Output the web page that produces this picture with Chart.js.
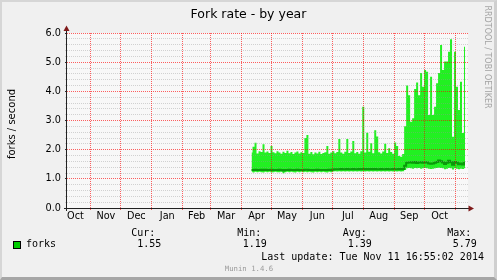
<!DOCTYPE html>
<html><head><meta charset="utf-8">
<script src="https://cdn.jsdelivr.net/npm/chart.js@4.4.1/dist/chart.umd.min.js"></script>
<style>
html,body{margin:0;padding:0;background:#f0f0f0;}
#wrap{position:relative;width:497px;height:280px;overflow:hidden;background:#f0f0f0;}
#c{position:absolute;left:0;top:0;}
.t{position:absolute;white-space:pre;color:#000;}
.mono{font-family:'DejaVu Sans Mono',monospace;font-size:10px;line-height:10px;}
#frame{position:absolute;left:0;top:0;width:497px;height:280px;box-sizing:border-box;border-style:solid;border-width:2px 3px 3px 2px;border-color:#d6d6d6 #cfcfcf #a6a6a6 #d6d6d6;pointer-events:none;}
</style></head><body>
<div id="wrap">
<canvas id="c" width="497" height="280"></canvas>
<div class="t" style="left:0;width:497px;text-align:center;top:6.7px;font-family:'DejaVu Sans';font-size:12.5px;line-height:13px;">Fork rate - by year</div>
<div class="t" style="left:-38.5px;top:118px;width:100px;text-align:center;font-family:'DejaVu Sans';font-size:10px;line-height:12px;transform:rotate(-90deg);">forks / second</div>
<div class="t" style="left:412.3px;top:51.5px;width:150px;text-align:center;font-family:'DejaVu Sans';font-size:8px;line-height:10px;color:#a4a4a4;transform:rotate(90deg);">RRDTOOL / TOBI OETIKER</div>
<div style="position:absolute;left:13px;top:241px;width:8px;height:8px;box-sizing:border-box;border:1px solid #000;background:#00cc00;"></div>
<div class="t mono" style="left:26px;top:239.2px;">forks</div>
<div class="t mono" style="left:131.2px;top:227.5px;">Cur:</div>
<div class="t mono" style="left:237.2px;top:227.5px;">Min:</div>
<div class="t mono" style="left:342.8px;top:227.5px;">Avg:</div>
<div class="t mono" style="left:447.2px;top:227.5px;">Max:</div>
<div class="t mono" style="left:137.2px;top:239.2px;">1.55</div>
<div class="t mono" style="left:242.8px;top:239.2px;">1.19</div>
<div class="t mono" style="left:347.8px;top:239.2px;">1.39</div>
<div class="t mono" style="left:452.8px;top:239.2px;">5.79</div>
<div class="t mono" style="left:261.2px;top:251.5px;">Last update: Tue Nov 11 16:55:02 2014</div>
<div class="t" style="left:224.8px;top:265.2px;font-family:'DejaVu Sans Mono',monospace;font-size:7.3px;line-height:8px;color:#9a9a9a;">Munin 1.4.6</div>
<div id="frame"></div>
</div>
<script>
// ---- data ----
const monthLabels = ['Oct','Nov','Dec','Jan','Feb','Mar','Apr','May','Jun','Jul','Aug','Sep','Oct'];
const monthStarts = ['2013-10-01','2013-11-01','2013-12-01','2014-01-01','2014-02-01','2014-03-01','2014-04-01',
  '2014-05-01','2014-06-01','2014-07-01','2014-08-01','2014-09-01','2014-10-01','2014-11-01'];
const yTickLabels = ['0.0','1.0','2.0','3.0','4.0','5.0','6.0'];
const axisStart = '2013-10-08';
const axisEnd = '2014-11-14';
const dataYear = 2014;
const dates = [
 '04-11','04-13','04-15','04-17','04-19','04-21','04-23','04-25','04-27','04-29',
 '05-01','05-03','05-05','05-07','05-09','05-11','05-13','05-15','05-17','05-19','05-21','05-23','05-25','05-27','05-29','05-31',
 '06-02','06-04','06-06','06-08','06-10','06-12','06-14','06-16','06-18','06-20','06-22','06-24','06-26','06-28','06-30',
 '07-02','07-04','07-06','07-08','07-10','07-12','07-14','07-16','07-18','07-20','07-22','07-24','07-26','07-28','07-30',
 '08-01','08-03','08-05','08-07','08-09','08-11','08-13','08-15','08-17','08-19','08-21','08-23','08-25','08-27','08-29','08-31',
 '09-02','09-04','09-06','09-08','09-10','09-12','09-14','09-16','09-18','09-20','09-22','09-24','09-26','09-28','09-30',
 '10-02','10-04','10-06','10-08','10-10','10-12','10-14','10-16','10-18','10-20','10-22','10-24','10-26','10-28','10-30',
 '11-01','11-03','11-05','11-07','11-09','11-11'];
const forksMax = [
 1.90,2.10,2.24,1.87,1.95,1.92,2.19,1.90,1.94,1.89,
 2.13,1.91,1.88,1.95,1.90,1.86,1.93,1.89,1.96,1.88,1.92,1.85,1.90,1.94,1.87,1.91,
 1.89,2.40,2.50,1.86,1.92,1.84,1.90,1.87,1.93,1.85,1.89,1.91,2.13,1.86,1.90,
 1.95,1.88,1.92,2.37,1.90,1.86,1.93,2.37,1.89,1.94,2.30,1.88,1.92,1.86,1.95,
 3.47,1.90,2.58,1.93,2.22,1.88,2.67,2.45,1.91,1.87,1.94,2.20,1.89,2.05,1.92,1.86,
 2.25,2.13,1.78,1.76,1.85,2.80,4.20,3.87,2.96,3.08,4.08,4.30,3.87,4.63,4.16,
 4.73,4.67,3.19,4.50,3.19,3.47,4.28,4.63,5.59,4.73,5.02,5.02,5.36,5.79,2.44,
 5.36,4.16,3.36,4.33,2.57,5.53];
const forksAvg = [
 1.30,1.30,1.31,1.30,1.30,1.31,1.30,1.31,1.30,1.30,
 1.31,1.30,1.30,1.30,1.31,1.30,1.29,1.30,1.30,1.31,1.30,1.30,1.30,1.31,1.30,1.30,
 1.30,1.31,1.31,1.30,1.30,1.30,1.30,1.31,1.30,1.30,1.30,1.30,1.30,1.31,1.30,
 1.32,1.33,1.33,1.33,1.34,1.33,1.33,1.34,1.33,1.33,1.34,1.33,1.33,1.34,1.33,
 1.34,1.33,1.34,1.33,1.34,1.33,1.34,1.33,1.33,1.34,1.33,1.33,1.34,1.33,1.33,1.34,
 1.33,1.33,1.34,1.33,1.34,1.45,1.55,1.56,1.57,1.55,1.58,1.54,1.56,1.57,1.55,
 1.57,1.56,1.53,1.52,1.53,1.55,1.58,1.63,1.60,1.56,1.51,1.55,1.62,1.57,1.48,
 1.58,1.55,1.50,1.53,1.49,1.55];
const forksMin = [
 1.24,1.22,1.24,1.23,1.24,1.23,1.22,1.24,1.23,1.24,
 1.22,1.23,1.24,1.23,1.23,1.24,1.19,1.23,1.24,1.23,1.24,1.23,1.22,1.24,1.23,1.24,
 1.23,1.24,1.23,1.24,1.23,1.22,1.24,1.23,1.24,1.23,1.24,1.23,1.22,1.24,1.23,
 1.25,1.26,1.25,1.26,1.25,1.26,1.25,1.26,1.25,1.26,1.25,1.26,1.25,1.26,1.25,
 1.26,1.25,1.26,1.25,1.26,1.25,1.26,1.25,1.26,1.25,1.26,1.25,1.26,1.25,1.26,1.25,
 1.26,1.25,1.26,1.25,1.26,1.30,1.36,1.37,1.36,1.35,1.37,1.36,1.37,1.35,1.36,
 1.37,1.36,1.35,1.34,1.35,1.36,1.37,1.38,1.37,1.36,1.33,1.35,1.37,1.36,1.32,
 1.36,1.35,1.33,1.35,1.34,1.36];

// ---- helpers ----
const EPOCH = Date.UTC(2013, 9, 1);
function dayOfISO(s){ const p = s.split('-').map(Number); return (Date.UTC(p[0], p[1]-1, p[2]) - EPOCH) / 86400000; }
function dayOfMD(s){ return dayOfISO(dataYear + '-' + s); }
const xs = dates.map(dayOfMD);
const pts = arr => arr.map((v, i) => ({x: xs[i], y: v}));
const startDays = monthStarts.map(dayOfISO);
const gridDays = startDays.slice(1);
const midDays = monthLabels.map((_, i) => (startDays[i] + startDays[i+1]) / 2);
const xMin = dayOfISO(axisStart), xMax = dayOfISO(axisEnd);
const isMajor = v => Math.abs(v - Math.round(v)) < 1e-6;

const tickFont = {family: 'DejaVu Sans', size: 9.7};
const MAJOR = 'rgba(255,0,0,0.62)';
const MINOR = 'rgba(150,150,150,0.4)';

const areaBg = {
  id: 'areaBg',
  beforeDraw(chart){
    const {ctx, chartArea: a} = chart;
    ctx.save(); ctx.fillStyle = '#f8f8f8';
    ctx.fillRect(a.left, a.top, a.right - a.left, a.bottom - a.top);
    ctx.restore();
  }
};
const axesArrows = {
  id: 'axesArrows',
  afterDraw(chart){
    const {ctx, chartArea: a} = chart;
    ctx.save();
    ctx.strokeStyle = '#222'; ctx.lineWidth = 1;
    const lx = a.left - 0.5, by = a.bottom + 0.5;
    ctx.beginPath();
    ctx.moveTo(lx, a.bottom + 3); ctx.lineTo(lx, a.top - 3);
    ctx.moveTo(a.left - 3, by); ctx.lineTo(a.right + 2, by);
    ctx.stroke();
    ctx.fillStyle = '#7f1a1a';
    ctx.beginPath();
    ctx.moveTo(lx, a.top - 7.5); ctx.lineTo(lx - 3, a.top - 2); ctx.lineTo(lx + 3, a.top - 2); ctx.closePath(); ctx.fill();
    ctx.beginPath();
    ctx.moveTo(a.right + 6, by); ctx.lineTo(a.right + 0.5, by - 3); ctx.lineTo(a.right + 0.5, by + 3); ctx.closePath(); ctx.fill();
    ctx.restore();
  }
};

new Chart(document.getElementById('c'), {
  type: 'line',
  data: {
    datasets: [
      {label: 'min', order: 2, data: pts(forksMin), borderColor: 'rgba(0,0,0,0)', borderWidth: 0, pointRadius: 0, fill: false, stepped: 'middle'},
      {label: 'max', order: 1, data: pts(forksMax), borderColor: 'rgba(0,0,0,0)', borderWidth: 0, pointRadius: 0, fill: '-1', backgroundColor: '#22f022', stepped: 'middle'},
      {label: 'forks', order: 0, data: pts(forksAvg), borderColor: '#0a9a0a', borderWidth: 2, pointRadius: 0, fill: false, stepped: 'middle'}
    ]
  },
  options: {
    responsive: false, animation: false, devicePixelRatio: 1,
    layout: {padding: {top: 33, right: 29, bottom: 58, left: 0}},
    plugins: {legend: {display: false}, tooltip: {enabled: false}, title: {display: false}},
    scales: {
      y: {
        type: 'linear', min: 0, max: 6, position: 'left',
        afterBuildTicks(s){ const t = []; for (let i = 0; i <= 30; i++) t.push({value: i / 5}); s.ticks = t; },
        afterFit(s){ s.width = 67; },
        ticks: {font: tickFont, color: '#000', padding: 4, autoSkip: false,
          callback: v => isMajor(v) ? yTickLabels[Math.round(v)] : ''},
        grid: {z: 1, lineWidth: 1, tickLength: 2,
          color: c => (c.tick && isMajor(c.tick.value)) ? MAJOR : MINOR,
          tickColor: c => (c.tick && isMajor(c.tick.value)) ? 'rgba(0,0,0,0.8)' : MINOR},
        border: {display: false, dash: [1, 1]}
      },
      xg: {
        type: 'linear', min: xMin, max: xMax, position: 'bottom', weight: 0,
        afterBuildTicks(s){ s.ticks = gridDays.map(v => ({value: v})); },
        afterFit(s){ s.height = 0; },
        ticks: {display: false, autoSkip: false},
        grid: {z: 1, color: MAJOR, tickLength: 2, tickColor: MAJOR},
        border: {display: false, dash: [1, 1]}
      },
      x: {
        type: 'linear', min: xMin, max: xMax, position: 'bottom', weight: 1,
        afterBuildTicks(s){ s.ticks = midDays.map(v => ({value: v})); },
        afterFit(s){ s.height = 14; },
        ticks: {font: tickFont, color: '#000', padding: 3, autoSkip: false, maxRotation: 0,
          callback: (v, i) => monthLabels[i]},
        grid: {display: false, drawTicks: false},
        border: {display: false}
      }
    }
  },
  plugins: [areaBg, axesArrows]
});
</script>
</body></html>
